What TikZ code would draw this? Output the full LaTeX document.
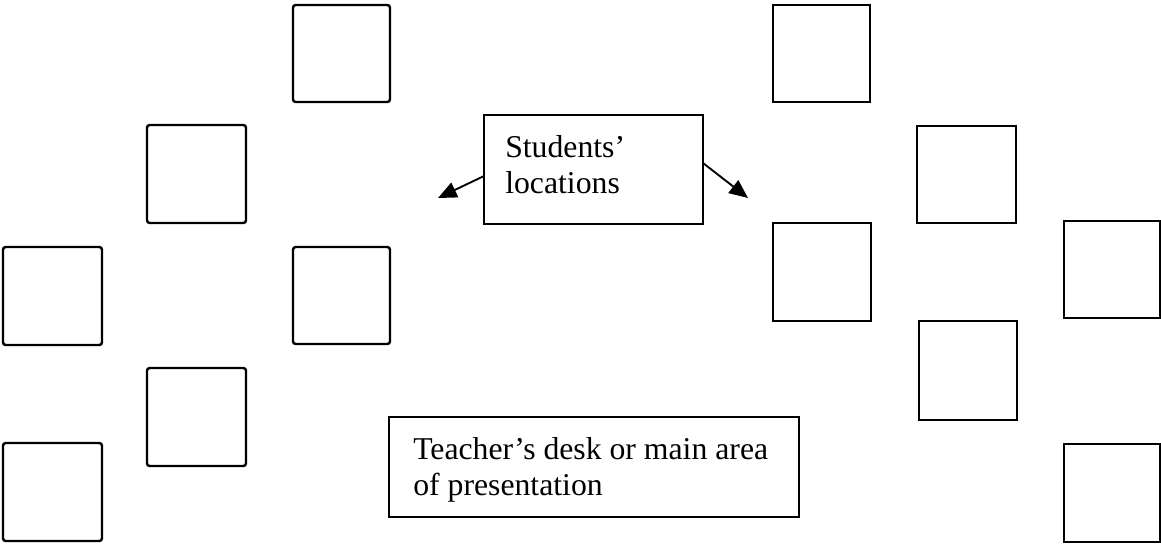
\documentclass[tikz,border=0pt]{standalone}
\usepackage{fontspec}
\setmainfont{Liberation Serif}
\usetikzlibrary{arrows.meta}
\newcommand{\desk}[6]{%
  \node[#6, minimum width={(#4-#2)*0.75pt}, minimum height={(#5-#3)*0.75pt}]
    (#1) at ({(#2+#4)/2},{(#3+#5)/2}) {};}
\tikzset{
  deskL/.style={draw, line width=1.8pt, rounded corners=2pt, inner sep=0pt, outer sep=0pt},
  deskR/.style={draw, line width=1.2pt, inner sep=0pt, outer sep=0pt},
  infobox/.style={draw, line width=1.5pt, inner sep=0pt, outer sep=0pt},
  lbl/.style={font=\fontsize{23.8pt}{27pt}\selectfont, inner sep=0pt, anchor=base west},
  pointer/.style={line width=1.4pt, -{Triangle[length=14pt,width=12pt]}}
}
\begin{document}
\begin{tikzpicture}[x=0.75pt, y=-0.75pt]
\useasboundingbox (0,0) rectangle (1161,544);
% left group
\desk{A}{293}{5}{390}{102}{deskL}
\desk{B}{147}{125}{246}{223}{deskL}
\desk{C}{3}{247}{102}{345}{deskL}
\desk{D}{293}{247}{390}{344}{deskL}
\desk{E}{147}{368}{246}{466}{deskL}
\desk{F}{3}{443}{102}{541}{deskL}
% right group
\desk{G}{773}{5}{870}{102}{deskR}
\desk{H}{917}{126}{1016}{223}{deskR}
\desk{I}{773}{223}{871}{321}{deskR}
\desk{J}{1064}{221}{1160}{318}{deskR}
\desk{K}{919}{321}{1017}{420}{deskR}
\desk{L}{1064}{444}{1160}{542}{deskR}
% students box
\desk{S}{484}{115}{703}{224}{infobox}
\node[lbl] (s1) at (505,157) {Students’};
\node[lbl] (s2) at (505,193) {locations};
\coordinate (tl) at (438,198);
\coordinate (tr) at (748,198);
\draw[pointer] (S.west |- 0,176) -- (tl);
\draw[pointer] (S.east |- 0,163) -- (tr);
% teacher box
\desk{T}{389}{417}{799}{517}{infobox}
\node[lbl] (t1) at (413,459) {Teacher’s desk or main area};
\node[lbl] (t2) at (413,495) {of presentation};
\end{tikzpicture}
\end{document}
